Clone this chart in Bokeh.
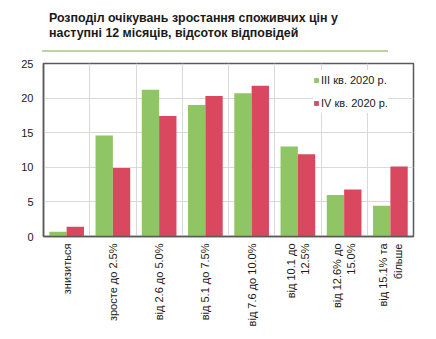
import numpy as np
from bokeh.plotting import figure
from bokeh.models import FixedTicker, Div, ColumnDataSource, Legend, LegendItem, Range1d
from bokeh.layouts import column
from bokeh.embed import file_html
from bokeh.resources import INLINE

categories = ["знизиться", "зросте до 2.5%", "від 2.6 до 5.0%", "від 5.1 до 7.5%",
              "від 7.6 до 10.0%", "від 10.1 до\n12.5%", "від 12.6% до\n15.0%", "від 15.1% та\nбільше"]
q3_2020 = [0.7, 14.6, 21.2, 19.0, 20.7, 13.0, 6.0, 4.45]
q4_2020 = [1.4, 9.9, 17.4, 20.3, 21.8, 11.9, 6.8, 10.1]
series_names = ["III кв. 2020 р.", "IV кв. 2020 р."]
y_ticks = [0, 5, 10, 15, 20, 25]

GREEN = "#8fc564"
RED = "#d9485f"
FONT = "Liberation Sans"

n = len(categories)
centers = np.arange(n) + 0.5
bw = 0.375

p = figure(width=436, height=283, output_backend="svg", toolbar_location=None,
           x_range=Range1d(0, n), y_range=Range1d(0, 25),
           min_border_left=43, min_border_right=23, min_border_top=7, min_border_bottom=103)

src = ColumnDataSource(dict(x1=centers - bw / 2, x2=centers + bw / 2, a=q3_2020, b=q4_2020))
r1 = p.vbar(x="x1", top="a", width=bw, source=src, fill_color=GREEN, line_color=None)
r2 = p.vbar(x="x2", top="b", width=bw, source=src, fill_color=RED, line_color=None)

p.xaxis.ticker = FixedTicker(ticks=list(centers))
p.xaxis.major_label_overrides = {float(c): lab for c, lab in zip(centers, categories)}
p.xaxis.major_label_orientation = np.pi / 2
p.xgrid.ticker = FixedTicker(ticks=list(range(1, n)))
p.yaxis.ticker = FixedTicker(ticks=y_ticks)

for ax in (p.xaxis[0], p.yaxis[0]):
    ax.axis_line_color = "#5a5a5a"
    ax.axis_line_width = 1.5
    ax.major_tick_line_color = None
    ax.minor_tick_line_color = None
    ax.major_tick_out = 0
    ax.major_tick_in = 0
    ax.major_label_text_font = FONT
    ax.major_label_text_font_size = "11px"
    ax.major_label_text_color = "#1a1a1a"
p.xaxis.major_label_standoff = 7
p.yaxis.major_label_standoff = 10

p.xgrid.grid_line_color = "#d9d9d9"
p.ygrid.grid_line_color = "#d9d9d9"
p.outline_line_color = "#5a5a5a"
p.outline_line_width = 1.5
p.background_fill_color = "white"
p.border_fill_color = "white"

legend = Legend(items=[LegendItem(label=series_names[0], renderers=[r1]),
                       LegendItem(label=series_names[1], renderers=[r2])],
                location=(270, 123))
legend.glyph_width = 6
legend.glyph_height = 6
legend.label_standoff = 2
legend.label_height = 20
legend.spacing = 3
legend.padding = 5
legend.margin = 0
legend.border_line_color = None
legend.background_fill_color = "white"
legend.background_fill_alpha = 1
legend.label_text_font = FONT
legend.label_text_font_size = "11px"
legend.label_text_color = "#1a1a1a"
p.add_layout(legend, "center")

title_html = (
    '<div style="position:relative;width:436px;height:56px;background:white;overflow:visible;">'
    '<div style="position:absolute;left:49px;top:11px;width:380px;font-family:\'Liberation Sans\';'
    'font-weight:bold;font-size:12.4px;line-height:14.5px;color:#1a1a1a;white-space:nowrap;">'
    'Розподіл очікувань зростання споживчих цін у<br>наступні 12 місяців, відсоток відповідей</div>'
    '<div style="position:absolute;left:42px;top:50px;width:346px;height:2px;background:#b9d5a2;"></div>'
    '</div>'
)
div = Div(text=title_html, width=436, height=56, margin=0)

layout = column(div, p, spacing=0)
open("out.html", "w").write(file_html(layout, INLINE))
